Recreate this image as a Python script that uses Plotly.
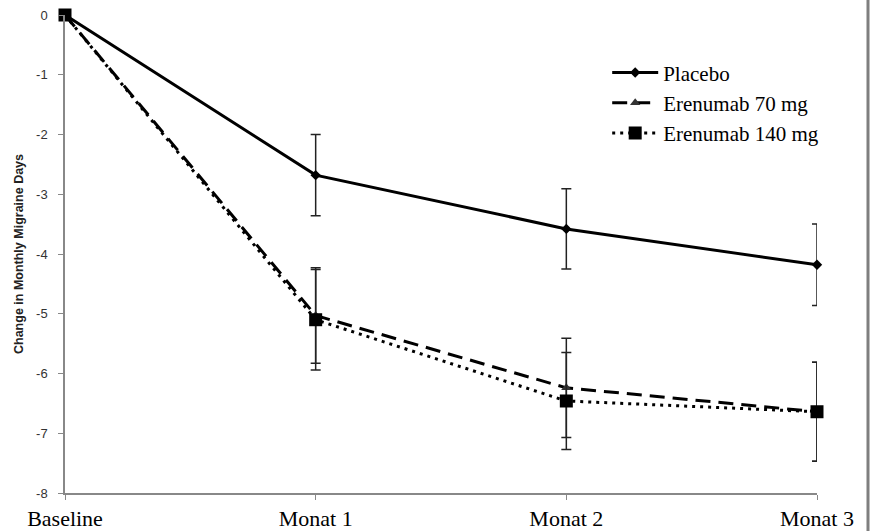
import plotly.graph_objects as go

categories = ["Baseline", "Monat 1", "Monat 2", "Monat 3"]
placebo = [0, -2.68, -3.58, -4.18]
placebo_err = [None, 0.68, 0.67, 0.68]
eren70 = [0, -5.03, -6.24, -6.64]
eren70_err = [None, 0.80, 0.83, 0.83]
eren140 = [0, -5.10, -6.46, -6.64]
eren140_err = [None, 0.84, 0.81, 0.83]
y_ticks = [0, -1, -2, -3, -4, -5, -6, -7, -8]

serif = "Liberation Serif, Times New Roman, serif"
sans = "Liberation Sans Narrow, Arial Narrow, Liberation Sans, Arial, sans-serif"

fig = go.Figure()

def err(vals):
    return dict(type="data", array=vals, visible=True, color="#222222",
                thickness=1.5, width=5)

fig.add_trace(go.Scatter(
    x=categories, y=placebo, name="Placebo", mode="lines+markers",
    line=dict(color="black", width=3),
    marker=dict(symbol="diamond", size=8, color="black"),
    error_y=err(placebo_err), cliponaxis=False))

fig.add_trace(go.Scatter(
    x=categories, y=eren70, name="Erenumab 70 mg", mode="lines+markers",
    line=dict(color="black", width=3, dash="15px,8px"),
    marker=dict(symbol="triangle-up", size=9, color="#333333"),
    error_y=err(eren70_err), cliponaxis=False))

fig.add_trace(go.Scatter(
    x=categories, y=eren140, name="Erenumab 140 mg", mode="lines+markers",
    line=dict(color="black", width=3, dash="3px,5px"),
    marker=dict(symbol="square", size=13, color="black"),
    error_y=err(eren140_err), cliponaxis=False))

fig.update_layout(
    width=872, height=531,
    margin=dict(l=65, r=55, t=15, b=38, autoexpand=False),
    plot_bgcolor="white", paper_bgcolor="white",
    showlegend=True,
    legend=dict(x=0.721, y=0.922, xanchor="left", yanchor="top",
                font=dict(family=serif, size=21, color="black"),
                bgcolor="rgba(0,0,0,0)", itemwidth=46, tracegroupgap=0),
    xaxis=dict(
        type="category", range=[0, 3], showgrid=False, zeroline=False,
        automargin=False,
        showline=True, linecolor="#888888", linewidth=1.5,
        ticks="outside", ticklen=5, tickcolor="#888888",
        tickfont=dict(family=serif, size=22, color="black")),
    yaxis=dict(
        range=[-8, 0], tickvals=y_ticks, ticktext=[str(v) for v in y_ticks],
        showgrid=False, zeroline=False, automargin=False,
        showline=True, linecolor="#888888", linewidth=1.5,
        ticks="outside", ticklen=5, tickcolor="#888888",
        ticklabelstandoff=8,
        tickfont=dict(family=sans, size=13, color="#333333"),
        title=dict(text="<b>Change in Monthly Migraine Days</b>",
                   font=dict(family=sans, size=12.5, color="#222222"),
                   standoff=10)),
)

fig.add_shape(type="line", xref="paper", yref="paper", layer="above",
              x0=(868 - 65) / 752, x1=(868 - 65) / 752, y0=-0.1, y1=1.05,
              line=dict(color="#7f7f7f", width=3))

fig.write_html(
    "out.html",
    config={"displayModeBar": False},
    post_script="document.body.style.margin='0';document.body.style.overflow='hidden';",
)
